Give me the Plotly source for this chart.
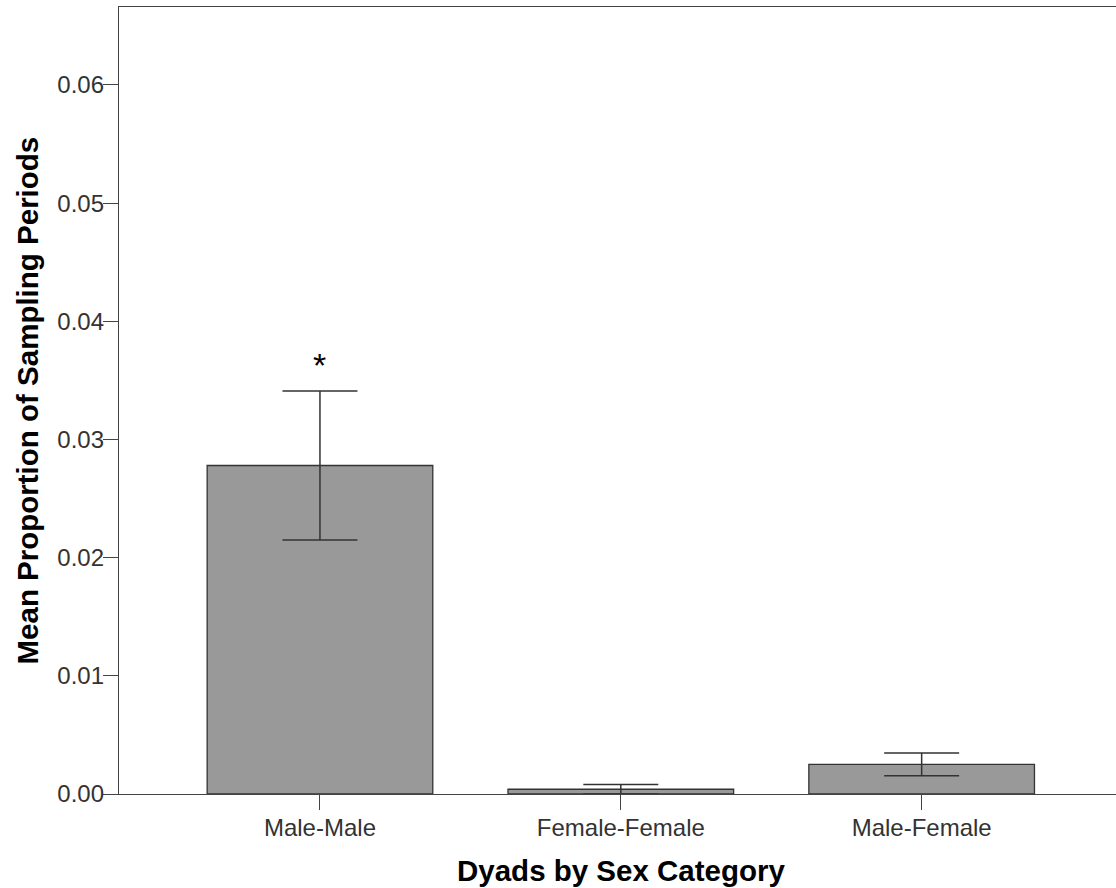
import plotly.graph_objects as go

categories = ["Male-Male", "Female-Female", "Male-Female"]
means = [0.0278, 0.0004, 0.0025]
errors = [0.0063, 0.0004, 0.00096]
y_ticks = [0.00, 0.01, 0.02, 0.03, 0.04, 0.05, 0.06]
y_tick_labels = ["0.00", "0.01", "0.02", "0.03", "0.04", "0.05", "0.06"]
sig_label = "*"
sig_category = "Male-Male"
sig_y = 0.0363

x_title = "Dyads by Sex Category"
y_title = "Mean Proportion of Sampling Periods"

FONT = "Arial, Liberation Sans, sans-serif"

fig = go.Figure()
fig.add_trace(go.Bar(
    x=list(range(len(categories))),
    y=means,
    width=0.75,
    marker=dict(color="#999999", line=dict(color="#333333", width=1.3)),
    error_y=dict(type="data", array=errors, visible=True,
                 color="#333333", thickness=1.5, width=37.5),
    showlegend=False,
))

fig.add_annotation(
    x=categories.index(sig_category), y=sig_y, xref="x", yref="y",
    text=sig_label, showarrow=False, yanchor="middle",
    font=dict(family=FONT, size=34, color="#000000"),
)
fig.add_annotation(
    x=(27 - 119) / 997, y=0.5, xref="paper", yref="paper",
    text=y_title, showarrow=False, textangle=-90,
    xanchor="center", yanchor="middle",
    font=dict(family=FONT, size=29.5, color="#000000", weight="bold"),
)
fig.add_annotation(
    x=(621 - 119) / 997, y=(794 - 870) / 787, xref="paper", yref="paper",
    text=x_title, showarrow=False,
    xanchor="center", yanchor="middle",
    font=dict(family=FONT, size=29.5, color="#000000", weight="bold"),
)

fig.update_layout(
    width=1116, height=888,
    margin=dict(l=119, r=0, t=7, b=94),
    paper_bgcolor="white", plot_bgcolor="white",
    font=dict(family=FONT, size=24, color="#333333"),
    xaxis=dict(
        range=[-0.668, 2.646],
        tickmode="array", tickvals=list(range(len(categories))), ticktext=categories,
        ticks="outside", ticklen=15, tickcolor="#444444", tickwidth=1.3,
        showline=True, linecolor="#444444", linewidth=1.3, mirror=True,
        showgrid=False, zeroline=False, ticklabelstandoff=-3,
        tickfont=dict(family=FONT, size=24, color="#333333"),
    ),
    yaxis=dict(
        range=[0, 0.0666],
        tickmode="array", tickvals=y_ticks, ticktext=y_tick_labels,
        ticks="outside", ticklen=15, tickcolor="#444444", tickwidth=1.3,
        showline=True, linecolor="#444444", linewidth=1.3,
        showgrid=False, zeroline=False, ticklabelstandoff=-6,
        tickfont=dict(family=FONT, size=24, color="#333333"),
    ),
)

fig.write_html(
    "out.html",
    config={"displayModeBar": False},
    post_script="document.body.style.margin='0';document.body.style.overflow='hidden';",
)
